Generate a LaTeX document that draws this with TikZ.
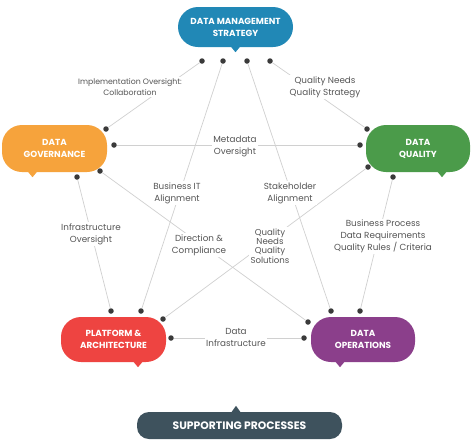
\documentclass[tikz,border=0pt]{standalone}
\usepackage{fontspec}
\setmainfont{Poppins}
\usetikzlibrary{calc}
\definecolor{cblue}{HTML}{2188B6}
\definecolor{corange}{HTML}{F6A33C}
\definecolor{cgreen}{HTML}{4B9B4A}
\definecolor{cred}{HTML}{EE4441}
\definecolor{cpurple}{HTML}{8B3F8B}
\definecolor{cslate}{HTML}{3E525D}
\definecolor{cline}{HTML}{D0D0D0}
\definecolor{cdot}{HTML}{3A3A3A}
\definecolor{ctext}{HTML}{555555}
\begin{document}
\begin{tikzpicture}[x=1pt,y=-1pt,
  box/.style={fill=#1, rounded corners=20pt, text=white,
    font=\bfseries\fontsize{8.8}{12}\selectfont, align=center, inner sep=0pt},
  dot/.style={circle, fill=cdot, inner sep=0pt, minimum size=5.5pt},
  link/.style={draw=cline, line width=0.7pt},
  lbl/.style={fill=white, text=ctext, font=\fontsize{8.8}{12}\selectfont,
    align=center, inner sep=1.2pt}]
\useasboundingbox (0,0) rectangle (474,445);
\fill[white] (0,0) rectangle (474,445);

% boxes
\node[box=cblue, minimum width=115pt, minimum height=40pt] (dms) at (235.5,27) {DATA MANAGEMENT\\STRATEGY};
\node[box=corange, minimum width=105pt, minimum height=47pt] (dg) at (54.5,148.5) {DATA\\GOVERNANCE};
\node[box=cgreen, minimum width=104pt, minimum height=47pt] (dq) at (418,148.5) {DATA\\QUALITY};
\node[box=cred, minimum width=105pt, minimum height=45pt] (pa) at (113.5,339.5) {PLATFORM \&\\ARCHITECTURE};
\node[box=cpurple, minimum width=104pt, minimum height=45pt] (do) at (363,339.5) {DATA\\OPERATIONS};
\node[box=cslate, rounded corners=12pt, minimum width=205pt, minimum height=27pt,
  font=\bfseries\fontsize{10.8}{12}\selectfont] (sp) at (239.5,425.5) {SUPPORTING PROCESSES};

% tails
\fill[cblue] ($(dms.south)+(-5,-1)$) -- ($(dms.south)+(5,-1)$) -- ($(dms.south)+(0,5)$) -- cycle;
\fill[corange] ($(dg.south)+(-27,-1)$) -- ($(dg.south)+(-17,-1)$) -- ($(dg.south)+(-22,5)$) -- cycle;
\fill[cgreen] ($(dq.south)+(19,-1)$) -- ($(dq.south)+(29,-1)$) -- ($(dq.south)+(24,5)$) -- cycle;
\fill[cred] ($(pa.south)+(19.5,-1)$) -- ($(pa.south)+(29.5,-1)$) -- ($(pa.south)+(24.5,5)$) -- cycle;
\fill[cpurple] ($(do.south)+(-28,-1)$) -- ($(do.south)+(-18,-1)$) -- ($(do.south)+(-23,5)$) -- cycle;
\fill[cslate] ($(sp.north)+(-8.5,1)$) -- ($(sp.north)+(1.5,1)$) -- ($(sp.north)+(-3.5,-6)$) -- cycle;

% dots
\node[dot] (m1) at (202,61) {};
\node[dot] (m2) at (223,61) {};
\node[dot] (m3) at (247,61) {};
\node[dot] (m4) at (270,61) {};
\node[dot] (g1) at (106,129) {};
\node[dot] (g2) at (114,145) {};
\node[dot] (g3) at (100,171) {};
\node[dot] (g4) at (77,177) {};
\node[dot] (q1) at (367,129) {};
\node[dot] (q2) at (360,145) {};
\node[dot] (q3) at (368,167) {};
\node[dot] (q4) at (393,177) {};
\node[dot] (p1) at (111,311) {};
\node[dot] (p2) at (141,311) {};
\node[dot] (p3) at (163,319) {};
\node[dot] (p4) at (171,338) {};
\node[dot] (o1) at (331,311) {};
\node[dot] (o2) at (360,311) {};
\node[dot] (o3) at (308,322) {};
\node[dot] (o4) at (304,338) {};

% links
\draw[link] (m1) -- (g1);
\draw[link] (m2) -- (p2);
\draw[link] (m3) -- (o1);
\draw[link] (m4) -- (q1);
\draw[link] (g2) -- (q2);
\draw[link] (g3) -- (o3);
\draw[link] (g4) -- (p1);
\draw[link] (q3) -- (p3);
\draw[link] (q4) -- (o2);
\draw[link] (p4) -- (o4);

% labels
\node[lbl, font=\fontsize{7.8}{11}\selectfont] (l1) at (130,87) {Implementation Oversight:\\Collaboration};
\node[lbl] (l2) at (177,193) {Business IT\\Alignment};
\node[lbl] (l3) at (290,193) {Stakeholder\\Alignment};
\node[lbl] (l4) at (325,87) {Quality Needs\\Quality Strategy};
\node[lbl] (l5) at (235,146) {Metadata\\Oversight};
\node[lbl] (l6) at (199,245) {Direction \&\\Compliance};
\node[lbl] (l7) at (91,234) {Infrastructure\\Oversight};
\node[lbl, font=\fontsize{8.6}{9.4}\selectfont] (l8) at (270,246) {Quality\\Needs\\Quality\\Solutions};
\node[lbl] (l9) at (383,236.5) {Business Process\\Data Requirements\\Quality Rules / Criteria};
\node[lbl] (l10) at (236,337) {Data\\Infrastructure};
\end{tikzpicture}
\end{document}
